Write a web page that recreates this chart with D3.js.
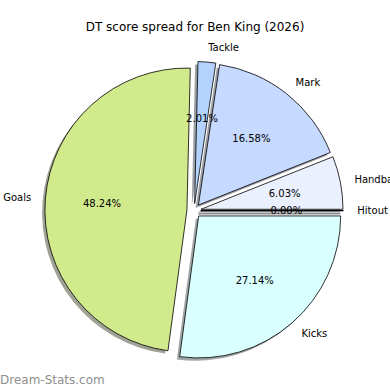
<!DOCTYPE html>
<html>
<head>
<meta charset="utf-8">
<script src="https://cdn.jsdelivr.net/npm/d3@7"></script>
<style>
  html, body { margin: 0; padding: 0; background: #fff; }
  svg { display: block; }
  text { font-family: "DejaVu Sans", sans-serif; }
</style>
</head>
<body>
<svg id="chart" width="390" height="390"></svg>
<script>
// ---- data (DT points per stat) ----
const categories = ["Hitout", "Handball", "Mark", "Tackle", "Goals", "Kicks"];
const points = [0, 12, 33, 4, 96, 54];
const colors = ["#5a6f8c", "#eaf0fe", "#c6d9fe", "#b3d2fd", "#d1ea8c", "#daffff"];
const titleText = "DT score spread for Ben King (2026)";
const watermark = "Dream-Stats.com";

// ---- layout ----
const W = 390, H = 390;
const cx = 194, cy = 210.6, R = 142;
const explode = 0.05;
const shadowOff = 0.02 * R;

const svg = d3.select("#chart");
const total = d3.sum(points);

// matplotlib: start at 3 o'clock, counter-clockwise
const pie = d3.pie().sort(null).value(d => d.v)
  .startAngle(Math.PI / 2).endAngle(Math.PI / 2 - 2 * Math.PI);
const data = categories.map((c, i) => ({ c, v: points[i], col: colors[i] }));
const arcs = pie(data);
const arc = d3.arc().innerRadius(0).outerRadius(R);

function mid(d) { return (d.startAngle + d.endAngle) / 2; }
function offset(d) {
  const m = mid(d);
  return [cx + explode * R * Math.sin(m), cy - explode * R * Math.cos(m)];
}
function darker(c) {
  const r = d3.rgb(c);
  return d3.rgb(r.r * 0.3, r.g * 0.3, r.b * 0.3).toString();
}

const g = svg.append("g");

// shadows first (below all wedges)
g.selectAll("path.shadow").data(arcs).join("path")
  .attr("class", "shadow")
  .attr("transform", d => { const o = offset(d); return `translate(${o[0] - shadowOff},${o[1] + shadowOff})`; })
  .attr("d", arc)
  .attr("fill", d => darker(d.data.col))
  .attr("fill-opacity", 0.5)
  .attr("stroke", d => darker(d.data.col))
  .attr("stroke-opacity", 0.5)
  .attr("stroke-width", d => d.data.v === 0 ? 2 : 0);

// wedges
g.selectAll("path.wedge").data(arcs).join("path")
  .attr("class", "wedge")
  .attr("transform", d => { const o = offset(d); return `translate(${o[0]},${o[1]})`; })
  .attr("d", arc)
  .attr("fill", d => d.data.col)
  .attr("stroke", "#000")
  .attr("stroke-width", d => d.data.v === 0 ? 1.4 : 0.8)
  .attr("stroke-linejoin", "round");

// category labels
g.selectAll("text.lab").data(arcs).join("text")
  .attr("class", "lab")
  .attr("x", d => offset(d)[0] + 1.1 * R * Math.sin(mid(d)))
  .attr("y", d => offset(d)[1] - 1.1 * R * Math.cos(mid(d)))
  .attr("text-anchor", d => Math.sin(mid(d)) > 0 ? "start" : "end")
  .attr("dominant-baseline", "central")
  .attr("font-size", 10)
  .attr("fill", "#000")
  .text(d => d.data.c);

// percentage labels
g.selectAll("text.pct").data(arcs).join("text")
  .attr("class", "pct")
  .attr("x", d => offset(d)[0] + 0.6 * R * Math.sin(mid(d)))
  .attr("y", d => offset(d)[1] - 0.6 * R * Math.cos(mid(d)))
  .attr("text-anchor", "middle")
  .attr("dominant-baseline", "central")
  .attr("font-size", 10)
  .attr("fill", "#000")
  .text(d => d3.format(".2f")(100 * d.data.v / total) + "%");

// title
svg.append("text")
  .attr("x", 195).attr("y", 30.5)
  .attr("text-anchor", "middle")
  .attr("font-size", 12)
  .attr("fill", "#000")
  .text(titleText);

// watermark
svg.append("text")
  .attr("x", 0).attr("y", 384)
  .attr("font-size", 12)
  .attr("fill", "#8f8f8f")
  .text(watermark);
</script>
</body>
</html>
